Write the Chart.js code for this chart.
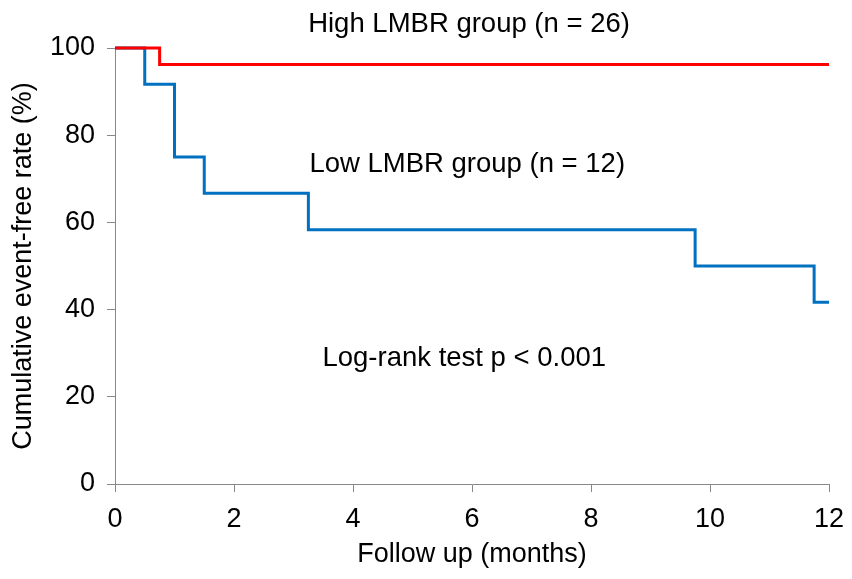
<!DOCTYPE html>
<html>
<head>
<meta charset="utf-8">
<script src="https://cdn.jsdelivr.net/npm/chart.js@4"></script>
<style>
  html, body { margin: 0; padding: 0; background: #fff; }
  #wrap { width: 852px; height: 579px; }
</style>
</head>
<body>
<div id="wrap"><canvas id="canvas" width="852" height="579"></canvas></div>
<script>
// Kaplan-Meier steps (months, %)
const highTimes = [0, 0.75, 12];
const highRates = [100, 96.2, 96.2];
const lowTimes = [0, 0.5, 1, 1.5, 3.25, 9.75, 11.75, 12];
const lowRates = [100, 91.7, 75, 66.7, 58.3, 50, 41.7, 41.7];
const xTicks = [0, 2, 4, 6, 8, 10, 12];
const yTicks = [0, 20, 40, 60, 80, 100];

// text labels placed in data coordinates
const notes = [
  { text: "High LMBR group (n = 26)", x: 5.95, y: 105.5 },
  { text: "Low LMBR group (n = 12)", x: 5.92, y: 73.4 },
  { text: "Log-rank test p < 0.001", x: 5.87, y: 28.9 },
];

const font = '"Liberation Sans", Arial, sans-serif';
Chart.defaults.font.family = font;
Chart.defaults.color = "#000";

const toPoints = (xs, ys) => xs.map((x, i) => ({ x: x, y: ys[i] }));

const notesPlugin = {
  id: "notes",
  afterDatasetsDraw(chart) {
    const ctx = chart.ctx;
    const xs = chart.scales.x;
    const ys = chart.scales.y;
    ctx.save();
    ctx.font = "27.5px " + font;
    ctx.fillStyle = "#000";
    ctx.textAlign = "center";
    ctx.textBaseline = "middle";
    notes.forEach((n) => {
      ctx.fillText(n.text, xs.getPixelForValue(n.x), ys.getPixelForValue(n.y));
    });
    ctx.restore();
  },
};

const config = {
  type: "scatter",
  data: {
    datasets: [
      {
        label: "High LMBR group",
        data: toPoints(highTimes, highRates),
        showLine: true,
        stepped: "before",
        borderColor: "#ff0000",
        borderWidth: 3,
        pointRadius: 0,
        clip: false,
      },
      {
        label: "Low LMBR group",
        data: toPoints(lowTimes, lowRates),
        showLine: true,
        stepped: "before",
        borderColor: "#0070c0",
        borderWidth: 3,
        pointRadius: 0,
        clip: false,
      },
    ],
  },
  options: {
    responsive: false,
    animation: false,
    layout: { padding: { top: 48, right: 23, left: 0, bottom: 0 } },
    plugins: { legend: { display: false }, tooltip: { enabled: false } },
    scales: {
      x: {
        type: "linear",
        min: 0,
        max: 12,
        afterBuildTicks: (s) => { s.ticks = xTicks.map((v) => ({ value: v })); },
        afterFit: (s) => { s.height = 95; s.paddingRight = 0; s.paddingLeft = 0; },
        ticks: { font: { size: 27 }, padding: 11, color: "#000" },
        grid: { drawOnChartArea: false, color: "#888", tickLength: 8 },
        border: { color: "#888", width: 1 },
        title: { display: true, text: "Follow up (months)", font: { size: 27 }, padding: { top: 4, bottom: 8 } },
      },
      y: {
        min: 0,
        max: 100,
        afterBuildTicks: (s) => { s.ticks = yTicks.map((v) => ({ value: v })); },
        afterFit: (s) => { s.width = 115; },
        ticks: { font: { size: 27 }, padding: 12, color: "#000" },
        grid: { drawOnChartArea: false, color: "#888", tickLength: 8 },
        border: { color: "#888", width: 1 },
        title: { display: true, text: "Cumulative event-free rate (%)", font: { size: 27 }, padding: { top: 7, bottom: 4 } },
      },
    },
  },
  plugins: [notesPlugin],
};

new Chart(document.getElementById("canvas").getContext("2d"), config);
</script>
</body>
</html>
